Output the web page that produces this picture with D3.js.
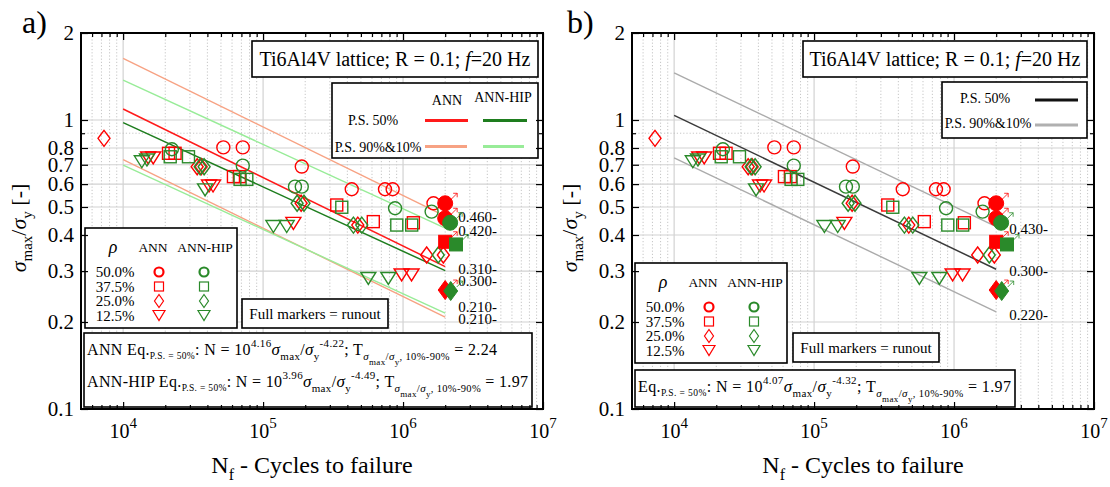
<!DOCTYPE html>
<html>
<head>
<meta charset="utf-8">
<script src="https://cdn.jsdelivr.net/npm/d3@7"></script>
<style>
  body { margin: 0; background: #fff; }
  svg { display: block; }
  text { font-family: "Liberation Serif", "Times New Roman", serif; fill: #000; }
</style>
</head>
<body>
<svg id="fig" width="1110" height="487"></svg>
<script>
// ---------- data ----------
// Axis extents and tick values
const xDomain = [5000, 1e7];
const yDomain = [0.1, 2];
const xMajorTicks = [1e4, 1e5, 1e6, 1e7];
const yMajorTicks = [0.1, 0.2, 0.3, 0.4, 0.5, 0.6, 0.7, 0.8, 1, 2];
const yMinorTicks = [0.9];

// Porosity levels and material groups
const rhoLevels = ["50.0%", "37.5%", "25.0%", "12.5%"];
const groups = ["ANN", "ANN-HIP"];

// Failed specimens [cycles, sigma_max/sigma_y], one list per porosity level
const annFailed = [
  [[52000, 0.804], [71600, 0.804], [189000, 0.69], [430000, 0.576], [743000, 0.576], [843000, 0.576], [1650000, 0.515]],
  [[21100, 0.767], [23500, 0.767], [61400, 0.637], [67700, 0.637], [336000, 0.508], [613000, 0.445], [1185000, 0.441]],
  [[7300, 0.864], [33800, 0.689], [36100, 0.689], [187000, 0.515], [475000, 0.433], [1475000, 0.341], [1940000, 0.341]],
  [[15100, 0.739], [16400, 0.739], [41100, 0.591], [43900, 0.591], [164600, 0.439], [977000, 0.291], [1150000, 0.291]]
];
const hipFailed = [
  [[22300, 0.792], [71600, 0.695], [169000, 0.588], [189000, 0.588], [877000, 0.495], [1600000, 0.482]],
  [[21700, 0.746], [29300, 0.746], [68500, 0.623], [76500, 0.623], [365000, 0.499], [902000, 0.433], [1153000, 0.433]],
  [[35500, 0.689], [37900, 0.689], [175000, 0.515], [196000, 0.515], [442000, 0.433], [507000, 0.433], [1786000, 0.341]],
  [[13600, 0.717], [14800, 0.727], [38500, 0.573], [118500, 0.428], [147500, 0.428], [565000, 0.283], [785000, 0.283]]
];
// Runouts (specimens that did not fail)
const annRunout = [
  [[2000000, 0.515], [2000000, 0.457]],
  [[2000000, 0.379]],
  [[2000000, 0.258]],
  []
];
const hipRunout = [
  [[2170000, 0.441]],
  [[2390000, 0.371]],
  [[2190000, 0.256]],
  []
];

// Basquin fits N = 10^a * S^-k, scatter T (10%-90%)
const fitLogA = [4.16, 3.96];
const fitExp = [4.22, 4.49];
const fitT = [2.24, 1.97];
const pooledFit = [4.07, 4.32, 1.97];
const fitSpan = [1e4, 2e6];

// Stress values printed at the end of the fit lines
const endLabelsA = [0.460, 0.420, 0.310, 0.300, 0.210, 0.210];
const endLabelsB = [0.430, 0.300, 0.220];

// ---------- styles ----------
const RED = "#ff0000", GREEN = "#2a8a2a";
const markerColor = [RED, GREEN];
const shapes = ["circle", "square", "diamond", "triangle"];
const lineColors = {
  annMed: "#ff1a1a", annBand: "#f7a283",
  hipMed: "#1e7d1e", hipBand: "#98ec98",
  poolMed: "#3a3a3a", poolBand: "#ababab",
  poolMedKey: "#111", poolBandKey: "#b0b0b0"
};

const svg = d3.select("#fig");
const Y0 = 409, Y1 = 33;

// Rich text: parts = [string, baselineShift, fontSize, italic]
function rich(textSel, parts) {
  let cur = 0;
  parts.forEach(([s, shift, size, it]) => {
    textSel.append("tspan")
      .attr("dy", shift - cur)
      .attr("font-size", size)
      .attr("font-style", it ? "italic" : null)
      .text(s);
    cur = shift;
  });
  return textSel;
}

function marker(g, shape, cx, cy, color, filled, sz, sw) {
  const fill = filled ? color : "none";
  if (shape === "circle") {
    g.append("circle").attr("cx", cx).attr("cy", cy).attr("r", sz.r)
      .attr("fill", fill).attr("stroke", color).attr("stroke-width", sw);
  } else if (shape === "square") {
    g.append("rect").attr("x", cx - sz.s / 2).attr("y", cy - sz.s / 2)
      .attr("width", sz.s).attr("height", sz.s)
      .attr("fill", fill).attr("stroke", color).attr("stroke-width", sw);
  } else if (shape === "diamond") {
    const w = sz.dw / 2, h = sz.dh / 2;
    g.append("path").attr("d", `M${cx},${cy - h}L${cx + w},${cy}L${cx},${cy + h}L${cx - w},${cy}Z`)
      .attr("fill", fill).attr("stroke", color).attr("stroke-width", sw);
  } else {
    const w = sz.tw / 2, h = sz.th / 2;
    g.append("path").attr("d", `M${cx - w},${cy - h}L${cx + w},${cy - h}L${cx},${cy + h}Z`)
      .attr("fill", fill).attr("stroke", color).attr("stroke-width", sw).attr("stroke-linejoin", "miter");
  }
}

const openSize = { r: 6.5, s: 12, dw: 12, dh: 16, tw: 15, th: 12 };
const fullSize = { r: 7.5, s: 13, dw: 14, dh: 19, tw: 15, th: 12 };
const keySize = { r: 4.5, s: 9, dw: 9, dh: 13, tw: 12, th: 10 };

function sAt(logA, k, N) { return Math.pow(10, (logA - Math.log10(N)) / k); }

function box(g, x, y, w, h) {
  g.append("rect").attr("x", x).attr("y", y).attr("width", w).attr("height", h)
    .attr("fill", "#fff").attr("stroke", "#000").attr("stroke-width", 1.6);
}

function eqParts(prefix, logA, k, T) {
  return [
    [prefix, 0, 16], ["P.S. = 50%", 4, 9.5], [": N = 10", 0, 16], [logA.toFixed(2), -8, 11],
    ["σ", 0, 17, true], ["max", 5, 11], ["/", 0, 16], ["σ", 0, 17, true], ["y", 5, 11],
    ["-" + k.toFixed(2), -8, 11], ["; T", 0, 16], ["σ", 5, 11, true], ["max", 10, 9],
    ["/", 5, 11], ["σ", 5, 11, true], ["y", 10, 9], [", 10%-90%", 5, 10.5],
    [" = " + T.toFixed(2), 0, 16]
  ];
}

function drawPanel(p) {
  const x = d3.scaleLog().domain(xDomain).range([p.x0, p.x1]);
  const y = d3.scaleLog().domain(yDomain).range([Y0, Y1]);
  const dx = p.x0 - 81;
  const g = svg.append("g");

  // grid
  const minorX = [];
  for (let e = 3; e <= 6; e++) for (let k = 2; k <= 9; k++) {
    const v = k * Math.pow(10, e);
    if (v > xDomain[0] && v < xDomain[1]) minorX.push(v);
  }
  const grid = g.append("g");
  grid.selectAll(".vmin").data(minorX).join("line")
    .attr("x1", d => x(d)).attr("x2", d => x(d)).attr("y1", Y1).attr("y2", Y0)
    .attr("stroke", "#b8b8b8").attr("stroke-width", 0.8).attr("stroke-dasharray", "1.2,2");
  grid.selectAll(".vmaj").data(xMajorTicks.slice(0, 3)).join("line")
    .attr("x1", d => x(d)).attr("x2", d => x(d)).attr("y1", Y1).attr("y2", Y0)
    .attr("stroke", "#d2d2d2").attr("stroke-width", 1.2);
  grid.selectAll(".hmin").data(yMinorTicks).join("line")
    .attr("x1", p.x0).attr("x2", p.x1).attr("y1", d => y(d)).attr("y2", d => y(d))
    .attr("stroke", "#b8b8b8").attr("stroke-width", 0.8).attr("stroke-dasharray", "1.2,2");
  grid.selectAll(".hmaj").data(yMajorTicks.slice(1, -1)).join("line")
    .attr("x1", p.x0).attr("x2", p.x1).attr("y1", d => y(d)).attr("y2", d => y(d))
    .attr("stroke", "#d2d2d2").attr("stroke-width", 1.2);

  // fit lines
  const lines = g.append("g");
  const seg = (logA, k, factor, color, w) => {
    lines.append("line")
      .attr("x1", x(fitSpan[0])).attr("y1", y(sAt(logA, k, fitSpan[0]) * factor))
      .attr("x2", x(fitSpan[1])).attr("y2", y(sAt(logA, k, fitSpan[1]) * factor))
      .attr("stroke", color).attr("stroke-width", w);
  };
  p.fits.forEach(f => {
    const r = Math.sqrt(f.T);
    seg(f.a, f.k, r, f.band, 1.4);
    seg(f.a, f.k, 1 / r, f.band, 1.4);
  });
  p.fits.forEach(f => seg(f.a, f.k, 1, f.med, 1.5));

  // end labels
  const xl = x(fitSpan[1]) + 13;
  p.endLabels.forEach((v, i) => {
    g.append("text").attr("x", xl).attr("y", y(v) + p.endNudge[i] + 5)
      .attr("font-size", 15).text(v.toFixed(3) + "-");
  });

  // data markers
  const pts = g.append("g");
  [annFailed, hipFailed].forEach((set, gi) => {
    set.forEach((list, si) => list.forEach(([n, s]) =>
      marker(pts, shapes[si], x(n), y(s), markerColor[gi], false, openSize, 1.4)));
  });
  [annRunout, hipRunout].forEach((set, gi) => {
    set.forEach((list, si) => list.forEach(([n, s]) => {
      const cx = x(n), cy = y(s), c = markerColor[gi];
      marker(pts, shapes[si], cx, cy, c, true, fullSize, 1);
      pts.append("path")
        .attr("d", `M${cx + 6},${cy - 4}L${cx + 12},${cy - 10}M${cx + 8},${cy - 10}L${cx + 12},${cy - 10}L${cx + 12},${cy - 6}`)
        .attr("fill", "none").attr("stroke", c).attr("stroke-width", 0.8);
    }));
  });

  // title box
  box(g, 252 + dx, 41, 286 + p.titleExtra, 36);
  rich(g.append("text").attr("x", 395 + dx + p.titleExtra / 2).attr("y", 66).attr("text-anchor", "middle"),
    [["Ti6Al4V lattice; R = 0.1; ", 0, 20], ["f", 0, 20, true], ["=20 Hz", 0, 20]]);

  // line legend
  const L = p.lineKey;
  box(g, L.x, L.y, L.w, L.h);
  L.items.forEach(it => {
    g.append("text").attr("x", it.tx).attr("y", it.ty).attr("text-anchor", "middle")
      .attr("font-size", 14).text(it.label);
    it.swatches.forEach(sw => g.append("line").attr("x1", sw.x1).attr("x2", sw.x2)
      .attr("y1", it.ly).attr("y2", it.ly).attr("stroke", sw.c).attr("stroke-width", 3));
  });
  (L.heads || []).forEach(h => g.append("text").attr("x", h.x).attr("y", h.y)
    .attr("text-anchor", "middle").attr("font-size", 14).text(h.t));

  // porosity legend
  const R = p.rhoKey;
  box(g, R.x, R.y, 152, 100);
  g.append("text").attr("x", R.x + 28).attr("y", R.y + 25).attr("text-anchor", "middle")
    .attr("font-size", 18).attr("font-style", "italic").text("ρ");
  groups.forEach((t, i) => g.append("text").attr("x", R.x + [68, 120][i]).attr("y", R.y + 24)
    .attr("text-anchor", "middle").attr("font-size", 13.5).text(t));
  rhoLevels.forEach((lv, i) => {
    const cy = R.y + 44 + i * 14.5;
    g.append("text").attr("x", R.x + 30).attr("y", cy + 5).attr("text-anchor", "middle")
      .attr("font-size", 15).text(lv);
    groups.forEach((_, gi) => marker(g, shapes[i], R.x + [74, 119][gi], cy, markerColor[gi], false,
      keySize, i === 0 ? 2.2 : 1.2));
  });

  // runout note
  const F = p.runKey;
  box(g, F.x, F.y, 146, 29);
  g.append("text").attr("x", F.x + 73).attr("y", F.y + 20).attr("text-anchor", "middle")
    .attr("font-size", 15).text("Full markers = runout");

  // equation box
  const E = p.eqBox;
  box(g, E.x, E.y, E.w, E.h);
  E.lines.forEach(ln => rich(g.append("text").attr("x", E.x + 3).attr("y", ln.y)
    .attr("textLength", ln.len).attr("lengthAdjust", "spacing"), ln.parts));

  // axes (inward ticks on all four sides)
  const ax = g.append("g");
  const styleAxis = sel => {
    sel.select(".domain").remove();
    sel.selectAll(".tick line").attr("stroke", "#000").attr("stroke-width", 1.2);
  };
  ax.append("g").attr("transform", `translate(${p.x0},0)`)
    .call(d3.axisLeft(y).tickValues(yMajorTicks).tickSize(-7).tickPadding(7)
      .tickFormat(d => String(d)))
    .call(styleAxis)
    .call(s => s.selectAll("text").attr("font-size", 21).attr("font-family", null));
  ax.append("g").attr("transform", `translate(${p.x0},0)`)
    .call(d3.axisLeft(y).tickValues(yMinorTicks).tickSize(-4).tickFormat(() => ""))
    .call(styleAxis);
  ax.append("g").attr("transform", `translate(${p.x1},0)`)
    .call(d3.axisRight(y).tickValues(yMajorTicks).tickSize(-7).tickFormat(() => ""))
    .call(styleAxis);
  ax.append("g").attr("transform", `translate(${p.x1},0)`)
    .call(d3.axisRight(y).tickValues(yMinorTicks).tickSize(-4).tickFormat(() => ""))
    .call(styleAxis);
  [[Y0, d3.axisBottom], [Y1, d3.axisTop]].forEach(([yy, fn]) => {
    ax.append("g").attr("transform", `translate(0,${yy})`)
      .call(fn(x).tickValues(xMajorTicks).tickSize(-7).tickFormat(() => "")).call(styleAxis);
    ax.append("g").attr("transform", `translate(0,${yy})`)
      .call(fn(x).tickValues(minorX).tickSize(-4).tickFormat(() => "")).call(styleAxis);
  });
  // x tick labels as powers of ten
  xMajorTicks.forEach(v => {
    rich(g.append("text").attr("x", x(v)).attr("y", 438).attr("text-anchor", "middle"),
      [["10", 0, 20], [String(Math.round(Math.log10(v))), -10, 15]]);
  });
  // frame
  g.append("rect").attr("x", p.x0).attr("y", Y1).attr("width", p.x1 - p.x0).attr("height", Y0 - Y1)
    .attr("fill", "none").attr("stroke", "#000").attr("stroke-width", 2);

  // axis titles
  rich(g.append("text").attr("x", (p.x0 + p.x1) / 2).attr("y", 473).attr("text-anchor", "middle"),
    [["N", 0, 24], ["f", 7, 16], [" - Cycles to failure", 0, 24]]);
  rich(g.append("g").attr("transform", `translate(${p.x0 - 55},228) rotate(-90)`)
      .append("text").attr("text-anchor", "middle"),
    [["σ", 0, 22, true], ["max", 6, 15], ["/", 0, 22], ["σ", 0, 22, true], ["y", 6, 15], [" [-]", 0, 22]]);

  // panel tag
  g.append("text").attr("x", p.tagX).attr("y", 33).attr("font-size", 32).text(p.tag);
}

const panels = [
  {
    tag: "a)", tagX: 22, x0: 81, x1: 543, titleExtra: 0,
    fits: [
      { a: fitLogA[0], k: fitExp[0], T: fitT[0], med: lineColors.annMed, band: lineColors.annBand },
      { a: fitLogA[1], k: fitExp[1], T: fitT[1], med: lineColors.hipMed, band: lineColors.hipBand }
    ],
    endLabels: endLabelsA, endNudge: [-0.5, 2, 2, 10, -9, 3],
    lineKey: {
      x: 332, y: 83, w: 206, h: 75,
      heads: [{ x: 447, y: 105, t: "ANN" }, { x: 503, y: 102, t: "ANN-HIP" }],
      items: [
        { label: "P.S. 50%", tx: 373, ty: 125, ly: 120.5,
          swatches: [{ x1: 425, x2: 468, c: lineColors.annMed }, { x1: 483, x2: 527, c: lineColors.hipMed }] },
        { label: "P.S. 90%&10%", tx: 378, ty: 152, ly: 146.5,
          swatches: [{ x1: 425, x2: 467, c: lineColors.annBand }, { x1: 483, x2: 524, c: lineColors.hipBand }] }
      ]
    },
    rhoKey: { x: 85, y: 228 },
    runKey: { x: 242, y: 299 },
    eqBox: {
      x: 84, y: 333, w: 448, h: 74,
      lines: [
        { y: 355, len: 410, parts: eqParts("ANN Eq.", fitLogA[0], fitExp[0], fitT[0]) },
        { y: 387, len: 441, parts: eqParts("ANN-HIP Eq.", fitLogA[1], fitExp[1], fitT[1]) }
      ]
    }
  },
  {
    tag: "b)", tagX: 567, x0: 632, x1: 1094, titleExtra: -2,
    fits: [
      { a: pooledFit[0], k: pooledFit[1], T: pooledFit[2], med: lineColors.poolMed, band: lineColors.poolBand }
    ],
    endLabels: endLabelsB, endNudge: [3, 0, 5],
    lineKey: {
      x: 942, y: 82, w: 145, h: 56,
      items: [
        { label: "P.S. 50%", tx: 985, ty: 103, ly: 100,
          swatches: [{ x1: 1035, x2: 1078, c: lineColors.poolMedKey }] },
        { label: "P.S. 90%&10%", tx: 988, ty: 128, ly: 125,
          swatches: [{ x1: 1035, x2: 1078, c: lineColors.poolBandKey }] }
      ]
    },
    rhoKey: { x: 635, y: 263 },
    runKey: { x: 793, y: 333 },
    eqBox: {
      x: 635, y: 370, w: 380, h: 37,
      lines: [{ y: 392, len: 373, parts: eqParts("Eq.", pooledFit[0], pooledFit[1], pooledFit[2]) }]
    }
  }
];

panels.forEach(drawPanel);
</script>
</body>
</html>
